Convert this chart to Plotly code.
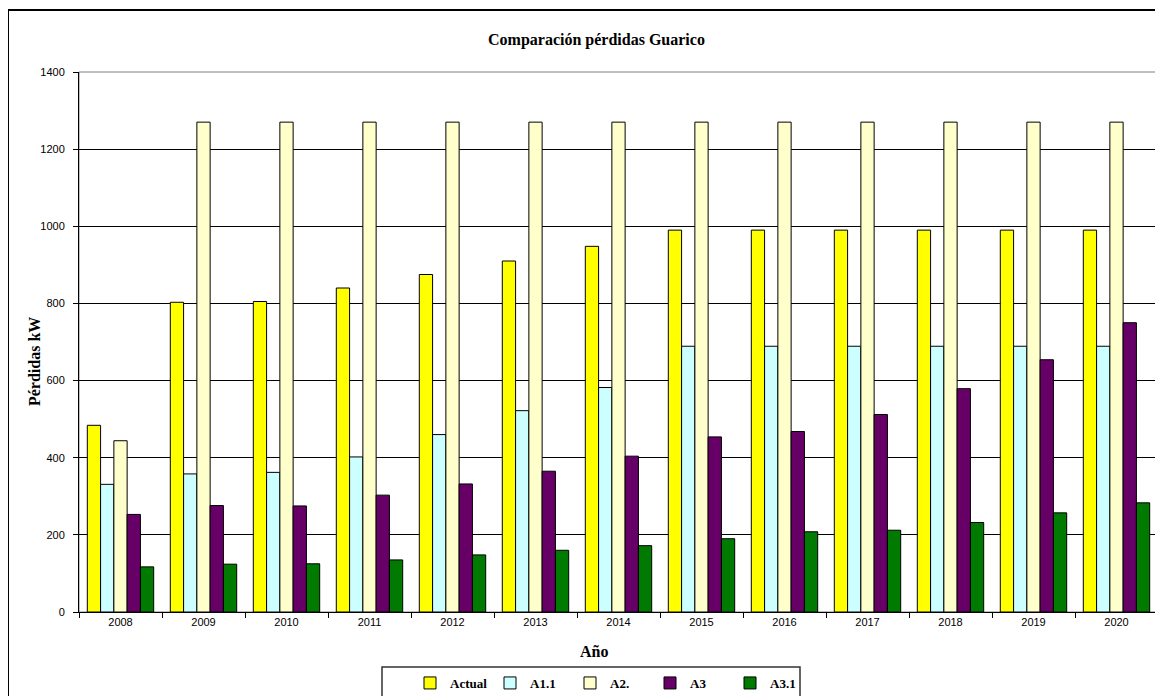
import plotly.graph_objects as go

years = ["2008", "2009", "2010", "2011", "2012", "2013", "2014",
         "2015", "2016", "2017", "2018", "2019", "2020"]
actual = [484, 803, 805, 840, 875, 910, 948, 990, 990, 990, 990, 990, 990]
a1_1 = [331, 358, 362, 402, 460, 522, 582, 689, 689, 689, 689, 689, 689]
a2 = [444, 1270, 1270, 1270, 1270, 1270, 1270, 1270, 1270, 1270, 1270, 1270, 1270]
a3 = [253, 276, 275, 303, 332, 365, 404, 454, 468, 512, 579, 654, 750]
a3_1 = [117, 124, 125, 135, 148, 160, 172, 190, 208, 212, 232, 257, 283]

series = [
    ("Actual", actual, "#FFFF00"),
    ("A1.1", a1_1, "#CCFFFF"),
    ("A2.", a2, "#FFFFCC"),
    ("A3", a3, "#660066"),
    ("A3.1", a3_1, "#007A00"),
]

fig = go.Figure()
for name, vals, col in series:
    fig.add_trace(go.Bar(x=years, y=vals, name=name,
                         marker=dict(color=col, line=dict(color="#000000", width=1))))

# page offset (browser body margin)
OFF = 8
W, H = 1163 - OFF, 696 - OFF
# plot area in page pixels: x 79..1158, y 72..612
L, R, T, B = 79 - OFF, W - (1158 - OFF), 72 - OFF, H - (612 - OFF)
pw, ph = W - L - R, H - T - B

def px(x):
    return (x - OFF - L) / pw

def py(y):
    return (H - B - (y - OFF)) / ph

serif = "Liberation Serif, Times New Roman, serif"
sans = "Liberation Sans, Arial, sans-serif"

fig.update_layout(
    width=W, height=H,
    margin=dict(l=L, r=R, t=T, b=B, autoexpand=False),
    paper_bgcolor="white", plot_bgcolor="white",
    barmode="group", bargap=0.2, bargroupgap=0,
    showlegend=True,
    legend=dict(orientation="h", x=px(410), y=py(668), xanchor="left", yanchor="top",
                borderwidth=0, bgcolor="rgba(0,0,0,0)",
                font=dict(family=serif, size=13, color="black", weight="bold"),
                entrywidth=35, itemwidth=30, tracegroupgap=0),
    xaxis=dict(type="category", showline=True, linecolor="black", linewidth=1,
               ticks="outside", ticklen=5, tickcolor="black", tickson="boundaries",
               tickfont=dict(family=sans, size=11, color="black"),
               showgrid=False),
    yaxis=dict(range=[0, 1400], dtick=200, showline=True, linecolor="black", linewidth=1,
               ticks="outside", ticklen=5, tickcolor="black", ticklabelstandoff=6,
               tickfont=dict(family=sans, size=11, color="black"),
               showgrid=True, gridcolor="#000000", gridwidth=1, zeroline=False),
    shapes=[
        dict(type="rect", xref="paper", yref="paper", x0=0, x1=1, y0=0, y1=1,
             line=dict(color="#808080", width=1), layer="below"),
        dict(type="rect", xref="paper", yref="paper", x0=px(8), x1=px(1161),
             y0=py(710), y1=py(10), line=dict(color="black", width=2)),
        dict(type="rect", xref="paper", yref="paper", x0=px(382), x1=px(800),
             y0=py(710), y1=py(667), line=dict(color="#333333", width=1.5),
             fillcolor="white", layer="below"),
    ],
    annotations=[
        dict(text="<b>Comparación pérdidas Guarico</b>", xref="paper", yref="paper",
             x=px(596), y=py(40), xanchor="center", yanchor="middle", showarrow=False,
             font=dict(family=serif, size=16, color="black")),
        dict(text="<b>Año</b>", xref="paper", yref="paper",
             x=px(594), y=py(652), xanchor="center", yanchor="middle", showarrow=False,
             font=dict(family=serif, size=16, color="black")),
        dict(text="<b>Pérdidas kW</b>", xref="paper", yref="paper",
             x=px(35), y=py(362), xanchor="center", yanchor="middle", showarrow=False,
             textangle=-90,
             font=dict(family=serif, size=16, color="black")),
    ],
)

fig.write_html("out.html")
